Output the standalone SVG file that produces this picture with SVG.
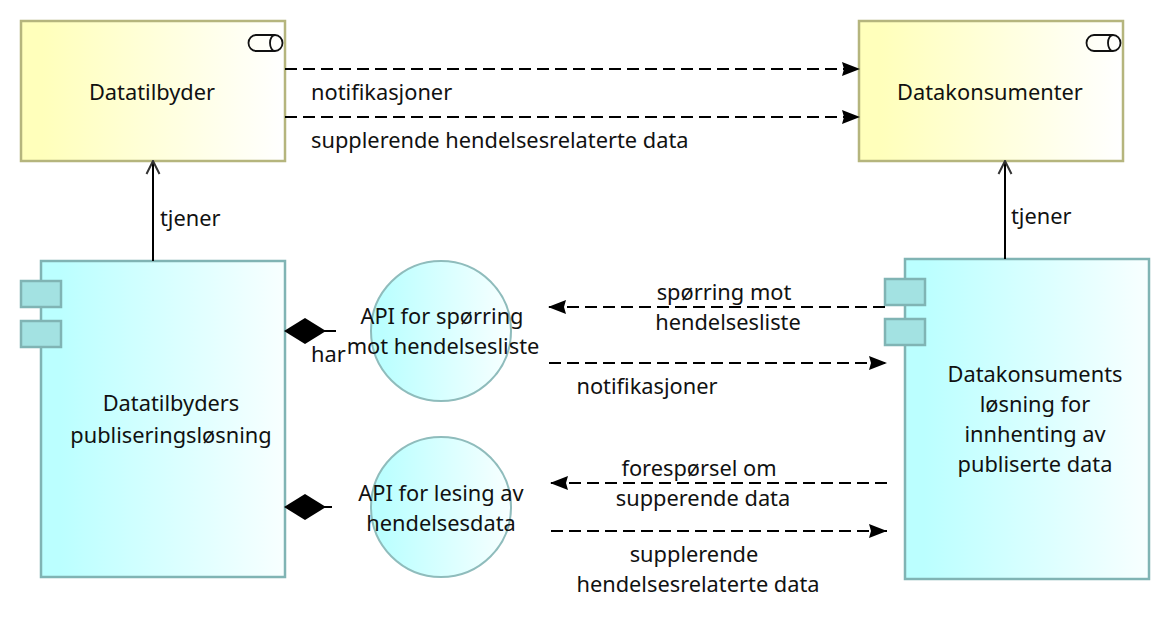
<svg xmlns="http://www.w3.org/2000/svg" width="1170" height="638" viewBox="0 0 1170 638">
<style>
text{font-family:"Noto Sans","DejaVu Sans",sans-serif;font-size:21.8px;fill:#111;text-anchor:middle}
.s{text-anchor:start}
.y{fill:url(#gy);stroke:#b5b57d;stroke-width:2.500}
.c{fill:url(#gc);stroke:#80b4b4;stroke-width:2.500}
.o{fill:url(#gc);stroke:#8fbcbc;stroke-width:2}
.t{fill:#a3e2e2;stroke:#80b4b4;stroke-width:2.500}
.i{fill:none;stroke:#111;stroke-width:1.800}
.d{fill:none;stroke:#000;stroke-width:2;stroke-dasharray:12 6}
.l{fill:none;stroke:#000;stroke-width:2}
.m{fill:#000}
</style>
<defs>
<linearGradient id="gy"><stop offset="0.08" stop-color="#ffffbb"/><stop offset="1" stop-color="#ffffff"/></linearGradient>
<linearGradient id="gc"><stop offset="0.08" stop-color="#bbffff"/><stop offset="1" stop-color="#f8ffff"/></linearGradient>
<marker id="fa" markerUnits="userSpaceOnUse" markerWidth="19" markerHeight="16" refX="18" refY="8" orient="auto"><path d="M0 1 L18 8 L0 15 L2 8Z" fill="#000"/></marker>
<marker id="oa" markerUnits="userSpaceOnUse" markerWidth="16" markerHeight="18" refX="15" refY="8" orient="auto"><path d="M2 1.500 L15 8 L2 14.500" fill="none" stroke="#333" stroke-width="2"/></marker>
</defs>
<g id="datatilbyder"><rect class="y" x="21" y="21" width="264" height="140"/>
<path class="i" d="M256 35H275A7.500 8 0 0 1 275 51H256A7.500 8 0 0 1 256 35ZM275 35A5 8 0 0 0 275 51"/>
<text x="152" y="100">Datatilbyder</text></g>
<g id="datakonsumenter"><rect class="y" x="859" y="21" width="264" height="140"/>
<path class="i" d="M1094 35H1113A7.500 8 0 0 1 1113 51H1094A7.500 8 0 0 1 1094 35ZM1113 35A5 8 0 0 0 1113 51"/>
<text x="990" y="100">Datakonsumenter</text></g>
<g id="publisering"><rect class="c" x="41" y="261" width="244" height="316"/>
<rect class="t" x="21" y="281" width="40" height="26"/><rect class="t" x="21" y="321" width="40" height="26"/>
<text x="171" y="411">Datatilbyders</text><text x="171" y="443">publiseringsløsning</text></g>
<g id="innhenting"><rect class="c" x="905" y="259" width="244" height="320"/>
<rect class="t" x="885" y="279" width="40" height="26"/><rect class="t" x="885" y="319" width="40" height="26"/>
<text x="1035" y="382">Datakonsuments</text><text x="1035" y="412">løsning for</text><text x="1035" y="442">innhenting av</text><text x="1035" y="472">publiserte data</text></g>
<g id="api-sporring"><circle class="o" cx="441" cy="331" r="70"/></g>
<g id="api-lesing"><circle class="o" cx="441" cy="507" r="70"/></g>
<g id="connectors">
<path class="d" d="M285 69H860" marker-end="url(#fa)"/>
<path class="d" d="M285 117H860" marker-end="url(#fa)"/>
<path class="l" d="M153 261V161" marker-end="url(#oa)"/>
<path class="l" d="M1005 259V161" marker-end="url(#oa)"/>
<path class="l" d="M320 331H336"/>
<path class="m" d="M284 331L305 318L326 331L305 344Z"/>
<path class="l" d="M320 507H332"/>
<path class="m" d="M284 507L305 494L326 507L305 520Z"/>
<path class="d" d="M885 307H548" marker-end="url(#fa)"/>
<path class="d" d="M549 363H887" marker-end="url(#fa)"/>
<path class="d" d="M887 483H550" marker-end="url(#fa)"/>
<path class="d" d="M551 531H887" marker-end="url(#fa)"/>
</g>
<g id="labels">
<text x="442" y="324">API for spørring</text><text x="443" y="354">mot hendelsesliste</text>
<text x="441" y="501">API for lesing av</text><text x="441" y="531">hendelsesdata</text>
<text class="s" x="311" y="100">notifikasjoner</text>
<text class="s" x="311" y="148">supplerende hendelsesrelaterte data</text>
<text class="s" x="160" y="226">tjener</text>
<text class="s" x="1011" y="224">tjener</text>
<text class="s" x="311" y="362">har</text>
<text x="724" y="300">spørring mot</text><text x="728" y="330">hendelsesliste</text>
<text x="647" y="394">notifikasjoner</text>
<text x="699" y="476">forespørsel om</text><text x="703" y="506">supperende data</text>
<text x="694" y="562">supplerende</text><text x="698" y="592">hendelsesrelaterte data</text>
</g>
</svg>
